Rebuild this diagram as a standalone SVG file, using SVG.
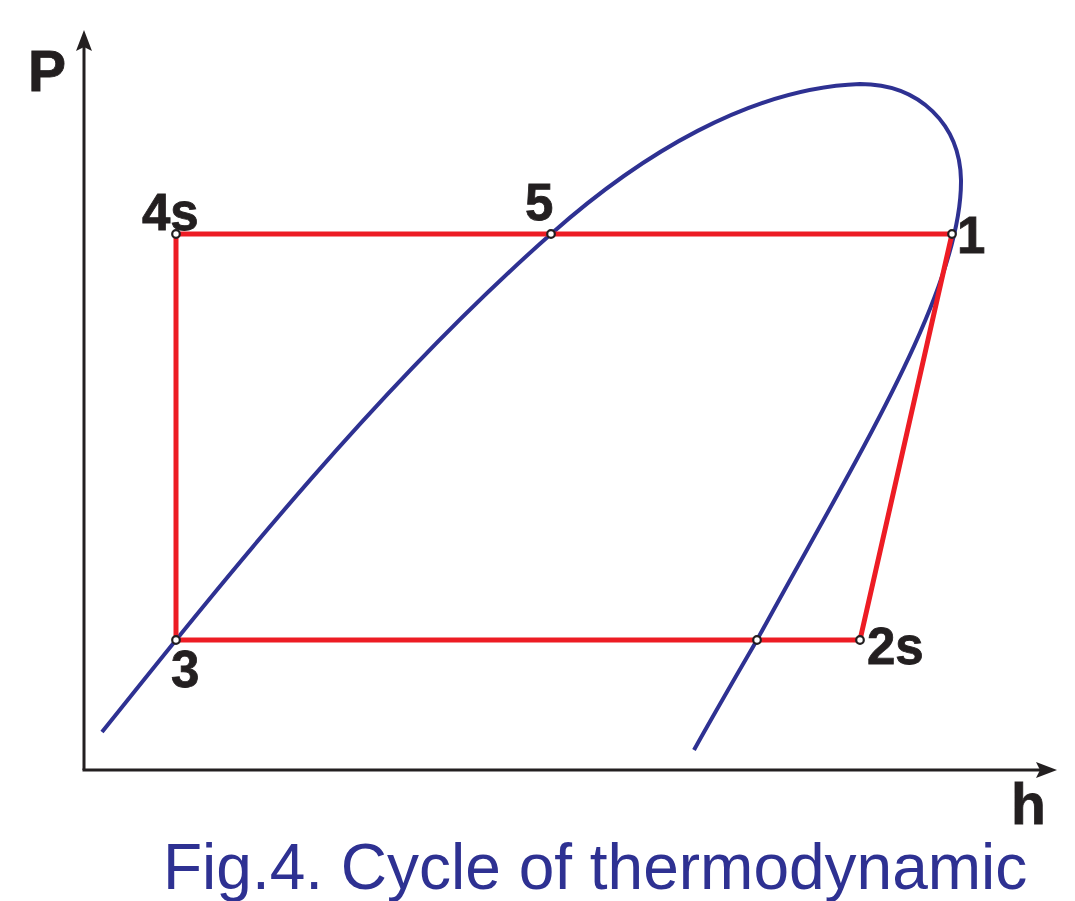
<svg xmlns="http://www.w3.org/2000/svg" width="1075" height="901" viewBox="0 0 1075 901">
<style>
.axis{stroke:#231f20;stroke-width:3;fill:none}
.head{fill:#231f20}
.dome{stroke:#2e3192;stroke-width:4;fill:none;stroke-linecap:butt}
.cyc{stroke:#ed1c24;stroke-width:5;fill:none;stroke-linejoin:miter}
.pt{fill:#fff;stroke:#231f20;stroke-width:2.2}
.lbl{font-family:"Liberation Sans",Arial,sans-serif;font-weight:bold;fill:#231f20;stroke:#231f20;stroke-width:0.8}
.cap{font-family:"Liberation Sans",Arial,sans-serif;fill:#2e3192}
</style>
<rect width="1075" height="901" fill="#fff"/>
<g id="axes">
<line class="axis" x1="84" y1="770" x2="84" y2="46"/>
<polygon class="head" points="84,30 92,51 84,47 76,51"/>
<line class="axis" x1="82.5" y1="770" x2="1040" y2="770"/>
<polygon class="head" points="1057,770 1036,778 1040,770 1036,762"/>
<text class="lbl" x="28" y="91" font-size="57">P</text>
<text class="lbl" x="1011" y="824" font-size="57">h</text>
</g>
<g id="dome">
<path class="dome" d="M102,732 C230,572 380,385 551,234 C640,155 750,88 860,84 C920,84 960,125 961,180 C962,290 855,460 757,640 C735,678 714,714 694,750"/>
</g>
<g id="connectors">
<polyline class="cyc" points="860,640 176,640 176,234 952,234 860,640"/>
</g>
<g id="node-4s"><circle class="pt" cx="176" cy="234" r="3.8"/><text class="lbl" x="142" y="230" font-size="51">4s</text></g>
<g id="node-5"><circle class="pt" cx="551" cy="234" r="3.8"/><text class="lbl" x="525" y="220" font-size="51">5</text></g>
<g id="node-1"><circle class="pt" cx="952" cy="234" r="3.8"/><text class="lbl" x="957" y="253" font-size="51">1</text></g>
<g id="node-3"><circle class="pt" cx="176" cy="640" r="3.8"/><text class="lbl" x="171" y="687" font-size="51">3</text></g>
<g id="node-2s"><circle class="pt" cx="860" cy="640" r="3.8"/><text class="lbl" x="867" y="664" font-size="51">2s</text></g>
<g id="node-x"><circle class="pt" cx="757" cy="640" r="3.8"/></g>
<g id="caption"><text class="cap" x="163" y="889" font-size="64">Fig.4. Cycle of thermodynamic</text></g>
</svg>
